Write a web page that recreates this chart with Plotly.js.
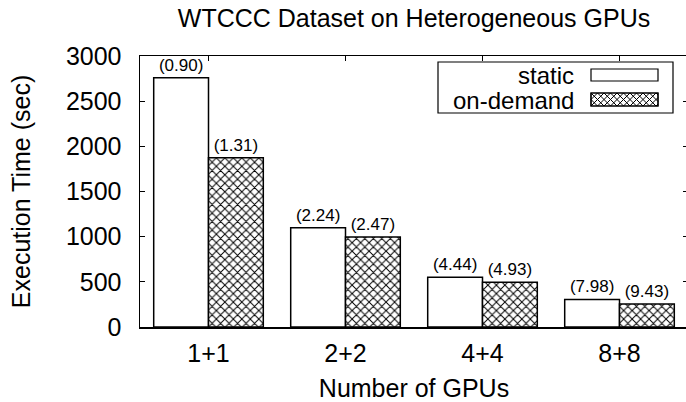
<!DOCTYPE html>
<html>
<head>
<meta charset="utf-8">
<script src="https://cdn.plot.ly/plotly-3.0.1.min.js"></script>
<style>
html,body{margin:0;padding:0;overflow:hidden;background:#fff;}
#chart{width:688px;height:402px;}
</style>
</head>
<body>
<div id="chart"></div>
<script>
// ---- data ----
var categories = ["1+1", "2+2", "4+4", "8+8"];
var seriesNames = ["static", "on-demand"];
var staticTimes = [2760, 1100, 550, 305];
var onDemandTimes = [1875, 995, 495, 255];
var staticSpeedups = ["(0.90)", "(2.24)", "(4.44)", "(7.98)"];
var onDemandSpeedups = ["(1.31)", "(2.47)", "(4.93)", "(9.43)"];

// ---- layout geometry ----
var W = 688, H = 402;
var M = {l: 140, r: 0, t: 56, b: 75};
var PW = W - M.l - M.r, PH = H - M.t - M.b;
function px(x) { return (x - M.l) / PW; }
function py(y) { return (M.t + PH - y) / PH; }

var FONT = "Liberation Sans, Arial, Helvetica, sans-serif";

var traces = [
  {
    type: "bar", name: seriesNames[0], x: categories, y: staticTimes,
    text: staticSpeedups, textposition: "outside", cliponaxis: false,
    constraintext: "none",
    textfont: {family: FONT, size: 17, color: "#000"},
    marker: {color: "#fff", line: {color: "#000", width: 1.5}},
    showlegend: false, hoverinfo: "skip"
  },
  {
    type: "bar", name: seriesNames[1], x: categories, y: onDemandTimes,
    text: onDemandSpeedups, textposition: "outside", cliponaxis: false,
    constraintext: "none",
    textfont: {family: FONT, size: 17, color: "#000"},
    marker: {color: "#fff", line: {color: "#000", width: 1.5},
      pattern: {shape: "x", fgcolor: "#000", bgcolor: "#fff", size: 6, solidity: 0.3, fillmode: "replace"}},
    showlegend: false, hoverinfo: "skip"
  }
];

// ---- custom legend (gnuplot style: label then sample box on the right) ----
function rectPx(x0, y0, x1, y1, fill) {
  return {type: "rect", xref: "paper", yref: "paper",
    x0: px(x0), x1: px(x1), y0: py(y1), y1: py(y0),
    line: {color: "#000", width: 1.2}, fillcolor: fill, layer: "above"};
}
function hatchPath(x0, y0, x1, y1, p) {
  var h = y1 - y0, d = "";
  for (var c = x0 - h; c <= x1; c += p) {
    var ta = Math.max(0, x0 - c), tb = Math.min(h, x1 - c);
    if (tb > ta) {
      d += "M" + px(c + ta) + "," + py(y0 + ta) + "L" + px(c + tb) + "," + py(y0 + tb);
      d += "M" + px(c + ta) + "," + py(y1 - ta) + "L" + px(c + tb) + "," + py(y1 - tb);
    }
  }
  return {type: "path", xref: "paper", yref: "paper", path: d,
    line: {color: "#000", width: 1}, layer: "above"};
}

var shapes = [
  rectPx(438, 62, 673, 113, "rgba(255,255,255,1)"),
  rectPx(591, 69, 658, 81, "#fff"),
  rectPx(591, 93, 658, 106, "#fff"),
  hatchPath(591, 93, 658, 106, 6.5),
  rectPx(591, 93, 658, 106, "rgba(0,0,0,0)")
];

var annotations = [
  {xref: "paper", yref: "paper", x: px(576), y: py(75), xanchor: "right", yanchor: "middle",
    text: seriesNames[0], showarrow: false, font: {family: FONT, size: 24, color: "#000"}},
  {xref: "paper", yref: "paper", x: px(576), y: py(100), xanchor: "right", yanchor: "middle",
    text: seriesNames[1], showarrow: false, font: {family: FONT, size: 24, color: "#000"}}
];

var layout = {
  width: W, height: H,
  margin: M,
  paper_bgcolor: "#fff", plot_bgcolor: "#fff",
  font: {family: FONT, size: 25, color: "#000"},
  title: {text: "WTCCC Dataset on Heterogeneous GPUs", font: {family: FONT, size: 25, color: "#000"},
    x: px(414), xanchor: "center", xref: "paper", y: 1 - 18 / H, yref: "container", yanchor: "middle"},
  barmode: "group", bargap: 0.2, bargroupgap: 0,
  showlegend: false,
  xaxis: {
    type: "category", categoryorder: "array", categoryarray: categories,
    range: [-0.5, 3.5], fixedrange: true,
    showline: true, linecolor: "#000", linewidth: 1.5, mirror: "allticks",
    ticks: "inside", ticklen: 5, tickwidth: 1, tickcolor: "#000",
    showgrid: false, zeroline: false,
    tickfont: {family: FONT, size: 25, color: "#000"},
    ticklabelstandoff: 3,
    title: {text: "Number of GPUs", font: {family: FONT, size: 25, color: "#000"}, standoff: 22},
    automargin: false
  },
  yaxis: {
    range: [0, 3000], dtick: 500, tick0: 0, fixedrange: true,
    showline: true, linecolor: "#000", linewidth: 1.5, mirror: "allticks",
    ticks: "inside", ticklen: 5, tickwidth: 1, tickcolor: "#000",
    showgrid: false, zeroline: false,
    tickfont: {family: FONT, size: 25, color: "#000"},
    ticklabelstandoff: 12,
    title: {text: "Execution Time (sec)", font: {family: FONT, size: 25, color: "#000"}, standoff: 28},
    automargin: false
  },
  shapes: shapes,
  annotations: annotations
};

Plotly.newPlot("chart", traces, layout, {displayModeBar: false, staticPlot: true});
</script>
</body>
</html>
